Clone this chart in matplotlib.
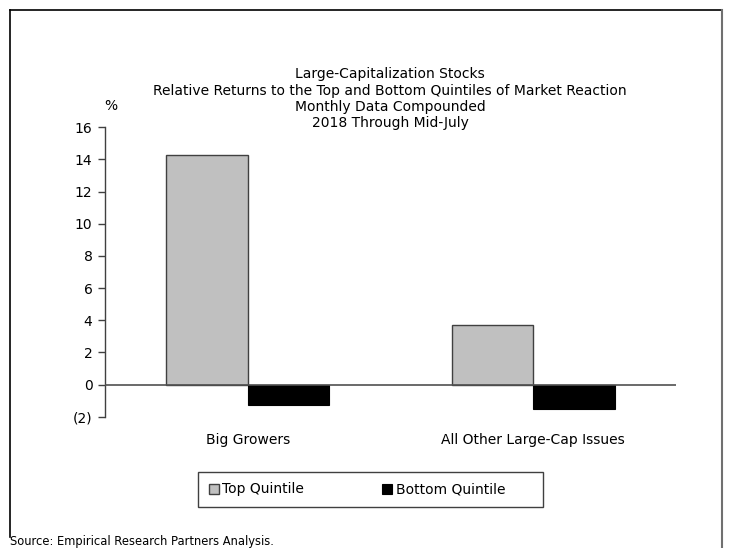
import matplotlib
matplotlib.use("Agg")
import matplotlib.pyplot as plt
from matplotlib.patches import Rectangle
from matplotlib.lines import Line2D

categories = ["Big Growers", "All Other Large-Cap Issues"]
top_quintile = [14.3, 3.7]
bottom_quintile = [-1.3, -1.5]
series_names = ["Top Quintile", "Bottom Quintile"]
y_ticks = [-2, 0, 2, 4, 6, 8, 10, 12, 14, 16]
y_tick_labels = ["(2)", "0", "2", "4", "6", "8", "10", "12", "14", "16"]
title_lines = [
    "Large-Capitalization Stocks",
    "Relative Returns to the Top and Bottom Quintiles of Market Reaction",
    "Monthly Data Compounded",
    "2018 Through Mid-July",
]
source_text = "Source: Empirical Research Partners Analysis."

W, H = 729, 548
plt.rcParams["font.family"] = ["DejaVu Sans"]
fig = plt.figure(figsize=(W / 100, H / 100), dpi=100)

def fx(px):
    return px / W

def fy(py):
    return 1 - py / H

ax = fig.add_axes([fx(105), fy(416.7), fx(676) - fx(105), fy(127.3) - fy(416.7)])

x = list(range(len(categories)))
bw = 0.286
ax.bar([i - bw / 2 for i in x], top_quintile, width=bw, color="#c0c0c0",
       edgecolor="#404040", linewidth=1.0, label=series_names[0], zorder=2)
ax.bar([i + bw / 2 for i in x], bottom_quintile, width=bw, color="#000000",
       edgecolor="#000000", linewidth=0.8, label=series_names[1], zorder=2)

ax.set_xlim(-0.5, len(categories) - 0.5)
ax.set_ylim(-2, 16)
ax.axhline(0, color="#505050", linewidth=1.2, zorder=3)

for s in ["top", "right", "bottom"]:
    ax.spines[s].set_visible(False)
ax.spines["left"].set_color("#404040")
ax.spines["left"].set_linewidth(1.0)

ax.set_yticks(y_ticks)
ax.set_yticklabels(y_tick_labels, fontsize=10)
ax.tick_params(axis="y", direction="out", length=5, width=1.0, color="#404040", pad=4)
ax.set_xticks(x)
ax.set_xticklabels(categories, fontsize=10)
ax.tick_params(axis="x", length=0, pad=12)

# Title block
title_y = [74, 91, 107, 123]
for line, ty in zip(title_lines, title_y):
    fig.text(fx(390), fy(ty), line, ha="center", va="center", fontsize=10)
fig.text(fx(111), fy(106), "%", ha="center", va="center", fontsize=10)

# Legend box
fig.patches.append(Rectangle((fx(198), fy(506.5)), fx(543) - fx(198), fy(472) - fy(506.5),
                             transform=fig.transFigure, fill=False,
                             edgecolor="#404040", linewidth=1.0))
handles, labels = ax.get_legend_handles_labels()
fig.legend(handles, labels, loc="center", bbox_to_anchor=(fx(357), fy(489.5)),
           ncol=2, frameon=False, fontsize=10, handlelength=0.7, handleheight=0.7,
           handletextpad=0.25, columnspacing=5.65)

# Outer frame
fig.add_artist(Line2D([fx(9.5), fx(9.5)], [fy(9.5), fy(537)], transform=fig.transFigure,
                      color="#000000", linewidth=1.2))
fig.add_artist(Line2D([fx(9.5), fx(721.5)], [fy(9.5), fy(9.5)], transform=fig.transFigure,
                      color="#000000", linewidth=1.2))
fig.add_artist(Line2D([fx(721.5), fx(721.5)], [fy(9.5), fy(548)], transform=fig.transFigure,
                      color="#707070", linewidth=1.5))

fig.text(fx(10), fy(541), source_text, ha="left", va="center", fontsize=8.3)

fig.savefig("out.png", dpi=100)
